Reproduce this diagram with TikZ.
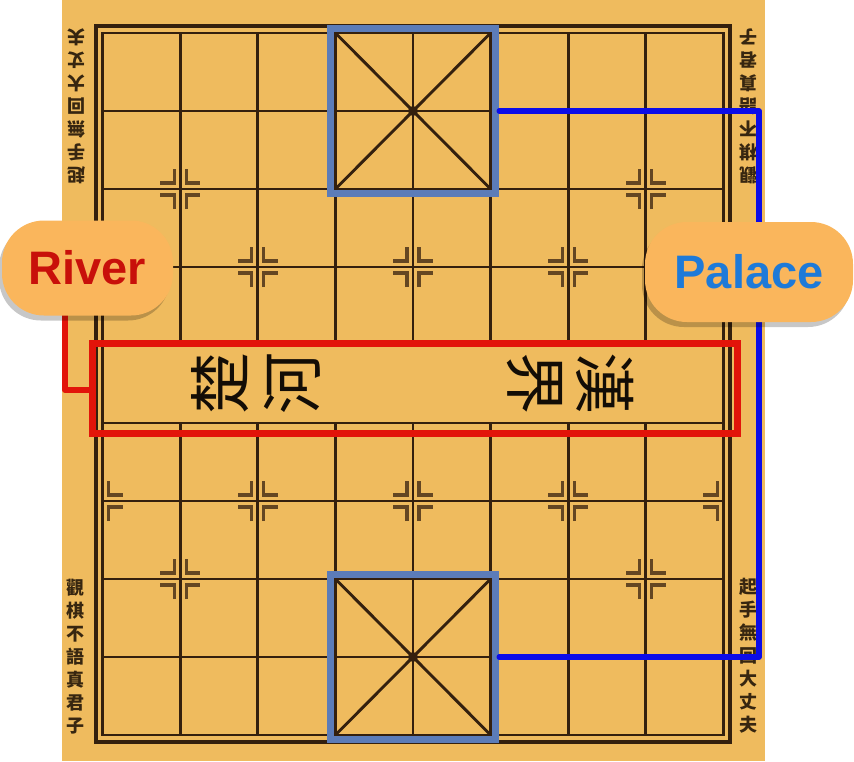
\documentclass[tikz,border=0pt]{standalone}
\usepackage{fontspec}
\setmainfont{Liberation Sans}
\newfontfamily\cjk{Noto Sans CJK TC}
\usetikzlibrary{shadows}
\definecolor{boardbg}{RGB}{239,187,94}
\definecolor{gridc}{RGB}{52,32,14}
\definecolor{markc}{RGB}{100,70,34}
\definecolor{palbox}{RGB}{92,124,184}
\definecolor{bluel}{RGB}{12,12,232}
\definecolor{redl}{RGB}{226,20,10}
\definecolor{bubblec}{RGB}{250,182,92}
\definecolor{rivertxt}{RGB}{200,16,10}
\definecolor{paltxt}{RGB}{30,122,216}
\definecolor{sidec}{RGB}{55,38,16}
\begin{document}
\begin{tikzpicture}[x=1pt,y=-1pt,
  gridline/.style={draw=gridc, line width=2.9pt},
  framel/.style={draw=gridc, line width=4pt},
  mk/.style={draw=markc, line width=3.2pt},
  palboxst/.style={draw=palbox, line width=7.5pt, minimum width=165pt, minimum height=165pt, inner sep=0pt},
  blueline/.style={draw=bluel, line width=5.5pt, line cap=round, line join=round},
  redline/.style={draw=redl, line width=6pt, line join=round},
  bubble/.style={fill=bubblec, rounded corners=42pt, inner sep=0pt,
    font=\fontsize{47}{47}\selectfont\bfseries,
    drop shadow={shadow xshift=-3pt, shadow yshift=-5pt, fill=black, opacity=0.22}},
  sidetext/.style={text=sidec, align=center, inner sep=0pt, font=\cjk\bfseries\fontsize{18}{23}\selectfont},
  riverchar/.style={text=black!90!brown, inner sep=0pt, font=\cjk\fontsize{62}{62}\selectfont},
  lmk/.pic={\draw[mk] (-6,-20) -- (-6,-6) -- (-20,-6); \draw[mk] (-6,20) -- (-6,6) -- (-20,6);},
  rmk/.pic={\draw[mk] (6,-20) -- (6,-6) -- (20,-6); \draw[mk] (6,20) -- (6,6) -- (20,6);}
]
\useasboundingbox (0,0) rectangle (854,761);
\fill[boardbg] (62,0) rectangle (765,761);

% grid
\foreach \r in {0,...,9} { \draw[gridline] (102.6,{33+78*\r}) -- (723.4,{33+78*\r}); }
\foreach \c in {1,...,7} {
  \draw[gridline] ({102.6+77.6*\c},33) -- ({102.6+77.6*\c},345);
  \draw[gridline] ({102.6+77.6*\c},423) -- ({102.6+77.6*\c},735);
}
\draw[gridline] (102.6,33) rectangle (723.4,735);
\draw[framel] (96,26) rectangle (730,742);

% palace diagonals
\draw[gridline] (335.4,33) -- (490.6,189) (490.6,33) -- (335.4,189);
\draw[gridline] (335.4,579) -- (490.6,735) (490.6,579) -- (335.4,735);
\fill[gridc] (413,111) circle (5pt);
\fill[gridc] (413,657) circle (5pt);

% position markers
\foreach \c/\r in {1/2,7/2,1/7,7/7,2/3,4/3,6/3,2/6,4/6,6/6} {
  \pic at ({102.6+77.6*\c},{33+78*\r}) {lmk};
  \pic at ({102.6+77.6*\c},{33+78*\r}) {rmk};
}
\foreach \r in {3,6} {
  \pic at (102.6,{33+78*\r}) {rmk};
  \pic at (723.4,{33+78*\r}) {lmk};
}

% side inscriptions
\node[sidetext, rotate=180] (tl) at (76,106) {起\\手\\無\\回\\大\\丈\\夫};
\node[sidetext, rotate=180] (tr) at (748,106) {觀\\棋\\不\\語\\真\\君\\子};
\node[sidetext] (bl) at (75,657) {觀\\棋\\不\\語\\真\\君\\子};
\node[sidetext] (br) at (748,656) {起\\手\\無\\回\\大\\丈\\夫};

% river
\node[draw=redl, line width=7pt, minimum width=645pt, minimum height=90pt, inner sep=0pt] (river) at (414.5,388) {};
\node[riverchar, rotate=90] (chu) at (220,383) {楚};
\node[riverchar, rotate=90] (he) at (292,383) {河};
\node[riverchar, rotate=-90] (jie) at (535,383) {界};
\node[riverchar, rotate=-90] (han) at (605,383) {漢};

% palaces
\node[palboxst] (ptop) at (413,111) {};
\node[palboxst] (pbot) at (413,657) {};

% connectors
\coordinate (bt) at (759,111);
\coordinate (bb) at (759,657);
\draw[blueline] (ptop.east) -- (bt) -- (bb) -- (pbot.east);
\coordinate (rc) at (65,390);
\draw[redline] (65,300) -- (rc) -- (river.west |- rc);

% bubbles
\node[bubble, minimum width=171pt, minimum height=95pt, text=rivertxt] (rivbub) at (87.5,268) {River};
\node[bubble, minimum width=208pt, minimum height=100pt, text=paltxt] (palbub) at (749,272) {Palace};
\end{tikzpicture}
\end{document}
